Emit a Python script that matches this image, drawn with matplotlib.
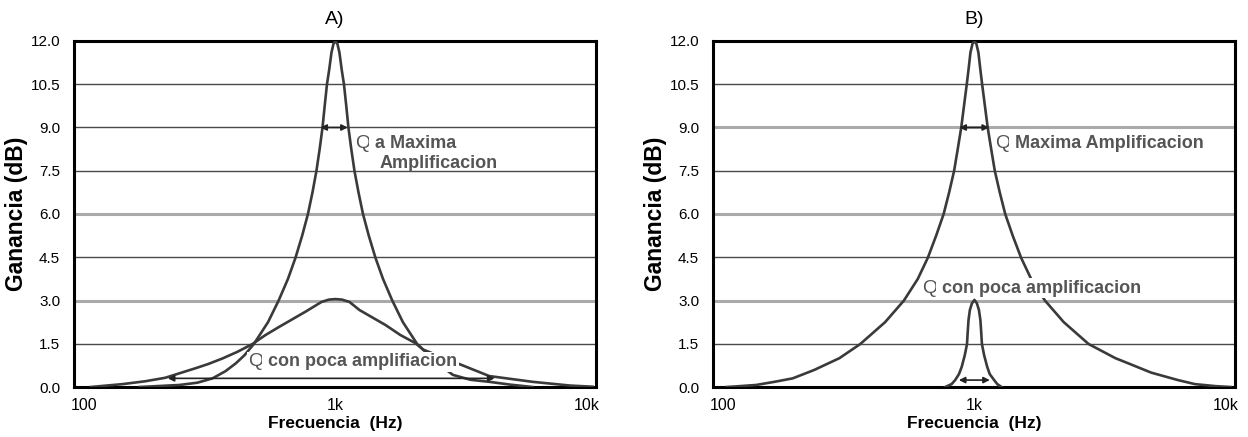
import matplotlib
matplotlib.use("Agg")
import matplotlib.pyplot as plt

# --- A) curva de Q alto (pico de 12 dB) y Q bajo (pico de 3 dB, ancha)
frec_a_pico = [166, 239, 282, 324, 365, 401, 434, 473, 539, 594, 647, 693, 737, 777, 810,
               840, 865, 888, 906, 925, 944, 964, 982, 1000, 1018, 1037, 1059, 1081, 1104,
               1126, 1156, 1190, 1235, 1287, 1357, 1443, 1546, 1683, 1855, 2115, 2231, 2526,
               2935, 3450, 4096, 4985, 6090]
gan_a_pico = [0.0, 0.07, 0.15, 0.30, 0.55, 0.82, 1.1, 1.49, 2.25, 3.0, 3.75, 4.48, 5.25, 6.0,
              6.75, 7.5, 8.25, 9.0, 9.75, 10.5, 11.0, 11.6, 11.9, 12.0, 11.9, 11.6, 11.0, 10.5,
              9.75, 9.0, 8.25, 7.5, 6.75, 6.0, 5.25, 4.48, 3.75, 3.0, 2.25, 1.49, 1.3, 0.85,
              0.42, 0.25, 0.18, 0.08, 0.0]

frec_a_ancha = [106, 142, 175, 210, 277, 312, 355, 407, 467, 526, 598, 759, 880, 940, 1000,
                1063, 1137, 1246, 1582, 1815, 2083, 2231, 4096, 6090, 8600, 10560]
gan_a_ancha = [0.0, 0.1, 0.2, 0.32, 0.65, 0.8, 0.99, 1.22, 1.49, 1.8, 2.09, 2.61, 2.95, 3.03,
               3.05, 3.03, 2.95, 2.67, 2.15, 1.8, 1.52, 1.3, 0.38, 0.18, 0.05, 0.01]

# --- B) curva ancha de 12 dB y curva estrecha de 3 dB
frec_b_ancha = [103, 112, 135, 160, 189, 230, 290, 351, 441, 524, 595, 652, 704, 754, 793,
                830, 858, 886, 932, 947, 964, 982, 1000, 1018, 1037, 1056, 1073, 1129, 1166,
                1205, 1261, 1326, 1420, 1534, 1681, 1908, 2267, 2849, 3640, 4100, 5050, 6460,
                7550, 9120, 10460]
gan_b_ancha = [0.0, 0.02, 0.07, 0.18, 0.3, 0.59, 1.0, 1.49, 2.25, 3.0, 3.75, 4.48, 5.25, 6.0,
               6.75, 7.5, 8.25, 9.0, 10.5, 11.0, 11.6, 11.9, 12.0, 11.9, 11.6, 11.0, 10.5, 9.0,
               8.25, 7.5, 6.75, 6.0, 5.25, 4.48, 3.75, 3.0, 2.25, 1.49, 1.0, 0.82, 0.5, 0.24,
               0.1, 0.03, 0.0]

frec_b_pico = [765, 811, 838, 868, 890, 915, 934, 940, 947, 959, 977, 1000, 1023, 1042, 1056,
               1064, 1071, 1093, 1124, 1150, 1198, 1233, 1282]
gan_b_pico = [0.0, 0.1, 0.24, 0.45, 0.70, 1.1, 1.49, 1.9, 2.32, 2.67, 2.9, 3.02, 2.9, 2.67,
              2.32, 1.9, 1.49, 1.1, 0.70, 0.45, 0.24, 0.1, 0.0]

y_ticks = [0.0, 1.5, 3.0, 4.5, 6.0, 7.5, 9.0, 10.5, 12.0]
x_ticks = [100, 1000, 10000]
x_labels = ["100", "1k", "10k"]

# lineas de rejilla: 'o' oscura fina, 'c' gris clara gruesa
rejilla_a = ["o", "c", "o", "c", "o", "o", "o"]
rejilla_b = ["o", "c", "o", "c", "o", "c", "o"]

curva = "#3a3a3a"
gris_txt = "#555555"
fuente = ["Liberation Sans", "DejaVu Sans"]

fig = plt.figure(figsize=(12.48, 4.37), dpi=100)
ax_a = fig.add_axes([0.0593, 0.1144, 0.4183, 0.7918])
ax_b = fig.add_axes([0.5713, 0.1144, 0.4183, 0.7918])


def base(ax, rejilla, titulo):
    ax.set_xscale("log")
    ax.set_xlim(91, 10900)
    ax.set_ylim(0, 12)
    ax.set_yticks(y_ticks)
    ax.set_yticklabels(["%.1f" % v for v in y_ticks], family=fuente, fontsize=11)
    ax.set_xticks(x_ticks)
    ax.set_xticklabels(x_labels, family=fuente, fontsize=11.5)
    ax.minorticks_off()
    ax.tick_params(axis="y", length=0, pad=10)
    ax.tick_params(axis="x", length=0, pad=8)
    for val, tipo in zip(y_ticks[1:-1], rejilla):
        if tipo == "o":
            ax.axhline(val, color="#4a4a4a", lw=1.0, zorder=1)
        else:
            ax.axhline(val, color="#aaaaaa", lw=2.2, zorder=1)
    for s in ax.spines.values():
        s.set_linewidth(2.2)
        s.set_color("black")
    ax.set_title(titulo, fontsize=14, family=fuente, pad=12)
    ax.set_xlabel("Frecuencia  (Hz)", family=fuente, fontweight="bold", fontsize=12.5, labelpad=2)
    ax.set_ylabel("Ganancia (dB)", family=fuente, fontweight="bold", fontsize=16.5, labelpad=2)


def flecha(ax, x1, x2, y):
    ax.annotate("", xy=(x1, y), xytext=(x2, y),
                arrowprops=dict(arrowstyle="<|-|>", color="#222222", lw=1.2,
                                mutation_scale=9, shrinkA=0, shrinkB=0), zorder=4)


def texto(ax, x, y, q, resto):
    caja = dict(facecolor="white", edgecolor="none", pad=1)
    t = ax.text(x, y, q, family=fuente, fontsize=14, color=gris_txt, va="center",
                zorder=5, bbox=caja)
    ax.annotate(" " + resto, xy=(1, 0.5), xycoords=t, va="center", ha="left",
                family=fuente, fontsize=13, fontweight="bold", color=gris_txt, zorder=5,
                bbox=caja)
    return t


base(ax_a, rejilla_a, "A)")
ax_a.plot(frec_a_pico, gan_a_pico, color=curva, lw=1.9, zorder=3)
ax_a.plot(frec_a_ancha, gan_a_ancha, color=curva, lw=1.9, zorder=3)
flecha(ax_a, 871, 1119, 9.0)
flecha(ax_a, 215, 4300, 0.3)
texto(ax_a, 1200, 8.45, "Q", "a Maxima")
ax_a.text(1500, 7.75, "Amplificacion", family=fuente, fontsize=13, fontweight="bold",
          color=gris_txt, va="center", zorder=5)
texto(ax_a, 450, 0.87, "Q", "con poca amplifiacion")

base(ax_b, rejilla_b, "B)")
ax_b.plot(frec_b_ancha, gan_b_ancha, color=curva, lw=1.9, zorder=3)
ax_b.plot(frec_b_pico, gan_b_pico, color=curva, lw=1.9, zorder=3)
flecha(ax_b, 871, 1143, 9.0)
flecha(ax_b, 867, 1151, 0.24)
texto(ax_b, 1210, 8.45, "Q", "Maxima Amplificacion")
texto(ax_b, 618, 3.42, "Q", "con poca amplificacion")

fig.savefig("out.png", dpi=100)
